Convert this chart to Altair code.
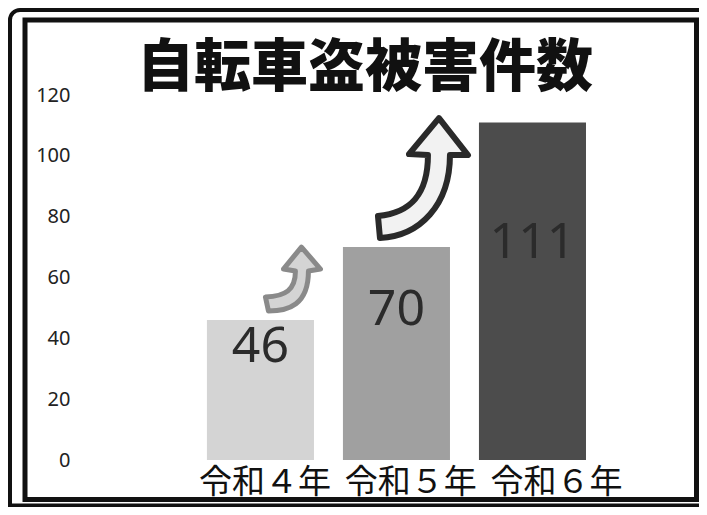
import altair as alt
import pandas as pd

# ---- data ----
categories = ["令和４年", "令和５年", "令和６年"]
values = [46, 70, 111]
value_labels = ["46", "70", "111"]
label_baseline_values = [32.2, 44.4, 66.4]   # where each number sits inside its bar
bar_colors = ["#d4d4d4", "#a0a0a0", "#4c4c4c"]
y_ticks = [0, 20, 40, 60, 80, 100, 120]
title_text = "自転車盗被害件数"

df = pd.DataFrame({
    "cat": categories,
    "value": values,
    "label": value_labels,
    "lab_y": label_baseline_values,
    "color": bar_colors,
})

# arrow glyphs (pixel-unit paths, anchored at the top-centre of the bar they leave)
arrow_small = ("M5,-23 C25,-24 35,-30 35,-49 L23,-51 L41,-73 L60,-51 L48,-49 "
               "C48,-15 28,-9 8,-9 Z")
arrow_big = ("M-18.5,-31 C13.5,-34 31.5,-52 31.5,-92 L12.5,-93 L42.5,-129 L71.5,-92 "
             "L53.5,-92 C53.5,-42 23.5,-11 -16.5,-9 Z")

bar_x = alt.X(
    "cat:N", sort=categories, title=None,
    scale=alt.Scale(paddingInner=0.213, paddingOuter=0.882, align=0.529),
    axis=None,
)
y_enc = alt.Y(
    "value:Q", title=None,
    scale=alt.Scale(domain=[0, 120], nice=False),
    axis=alt.Axis(values=y_ticks, domain=False, ticks=False, grid=False,
                  labelPadding=10, labelFont="Noto Sans", labelFontSize=20,
                  labelColor="#222222"),
)
# category labels sit on a slightly wider spacing than the bars
label_x = alt.X(
    "cat:N", sort=categories, title=None,
    scale=alt.Scale(type="band", paddingInner=0, paddingOuter=0.6235, align=0.617),
    axis=alt.Axis(orient="bottom", labelAngle=0, domain=False, ticks=False,
                  labelPadding=6, labelFont="Noto Sans CJK JP", labelFontSize=33,
                  labelColor="#111111", labelBaseline="top"),
)

frame_df = pd.DataFrame({"k": [0]})
outer = alt.Chart(frame_df).mark_rect(
    fillOpacity=0, stroke="#111111", strokeWidth=4, cornerRadiusTopLeft=10
).encode(x=alt.value(-70), x2=alt.value(640), y=alt.value(-85), y2=alt.value(410.5))
inner = alt.Chart(frame_df).mark_rect(
    fillOpacity=0, stroke="#111111", strokeWidth=5
).encode(x=alt.value(-55), x2=alt.value(616.5), y=alt.value(-75), y2=alt.value(404.5))

title = alt.Chart(frame_df).mark_text(
    font="Noto Sans CJK JP", fontSize=57, fontWeight=900, color="#111111",
    baseline="middle", align="center"
).encode(x=alt.value(285), y=alt.value(-26), text=alt.value(title_text))

bars = alt.Chart(df).mark_bar().encode(
    x=bar_x, y=y_enc, color=alt.Color("color:N", scale=None)
)

labels = alt.Chart(df).mark_text(
    font="Noto Sans", fontSize=50, color="#2b2b2b", baseline="alphabetic"
).encode(
    x=alt.X("cat:N", sort=categories, title=None, axis=None),
    y=alt.Y("lab_y:Q", title=None),
    text="label:N",
)

arrow1 = alt.Chart(df.iloc[[0]]).mark_point(
    shape=arrow_small, size=4, filled=True, fill="#d4d4d4",
    stroke="#8a8a8a", strokeWidth=5, opacity=1, strokeJoin="round"
).encode(x=alt.X("cat:N", sort=categories, title=None, axis=None),
         y=alt.Y("value:Q", title=None))

arrow2 = alt.Chart(df.iloc[[1]]).mark_point(
    shape=arrow_big, size=4, filled=True, fill="#f2f2f2",
    stroke="#2a2a2a", strokeWidth=6, opacity=1, strokeJoin="round"
).encode(x=alt.X("cat:N", sort=categories, title=None, axis=None),
         y=alt.Y("value:Q", title=None))

main = alt.layer(outer, inner, title, bars, labels, arrow1, arrow2)

cat_axis = alt.Chart(df).mark_point(opacity=0).encode(
    x=label_x, y=alt.Y("value:Q", title=None)
)

chart = alt.layer(main, cat_axis).resolve_scale(x="independent").properties(
    width=619,
    height=365,
    padding={"left": 72, "top": 87, "right": 0, "bottom": 47},
    autosize=alt.AutoSizeParams(type="none"),
    background="white",
).configure_view(stroke=None)

chart.save("out.html", embed_options={"renderer": "svg", "actions": False})
